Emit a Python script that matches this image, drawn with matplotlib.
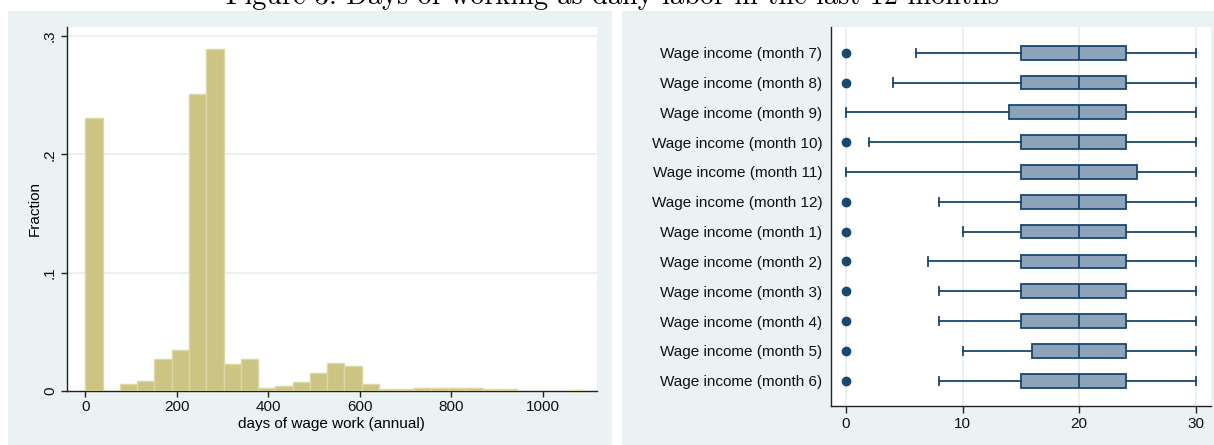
import numpy as np
import matplotlib
matplotlib.use("Agg")
import matplotlib.pyplot as plt
from matplotlib.patches import Rectangle

# ---------------- data ----------------
title_text = "Figure 3: Days of working as daily labor in the last 12 months"

# histogram: 29 bins between 0 and 1095 days, fraction per bin
hist_min, hist_max, hist_nbins = 0, 1095, 29
hist_fraction = [0.2305, 0.0, 0.0056, 0.0085, 0.0265, 0.0344, 0.2508, 0.2889,
                 0.0226, 0.0265, 0.0023, 0.0040, 0.0076, 0.0147, 0.0234, 0.0206,
                 0.0056, 0.0014, 0.0014, 0.0023, 0.0023, 0.0023, 0.0023, 0.0014,
                 0.0014, 0.0, 0.0, 0.0, 0.0008]
hist_xticks = [0, 200, 400, 600, 800, 1000]
hist_yticks = [0, 0.1, 0.2, 0.3]
hist_yticklabels = ["0", ".1", ".2", ".3"]
hist_xlabel = "days of wage work (annual)"
hist_ylabel = "Fraction"

# box plots (top to bottom)
box_labels = ["Wage income (month 7)", "Wage income (month 8)", "Wage income (month 9)",
              "Wage income (month 10)", "Wage income (month 11)", "Wage income (month 12)",
              "Wage income (month 1)", "Wage income (month 2)", "Wage income (month 3)",
              "Wage income (month 4)", "Wage income (month 5)", "Wage income (month 6)"]
box_whislo = [6, 4, 0, 2, 0, 8, 10, 7, 8, 8, 10, 8]
box_q1     = [15, 15, 14, 15, 15, 15, 15, 15, 15, 15, 16, 15]
box_med    = [20, 20, 20, 20, 20, 20, 20, 20, 20, 20, 20, 20]
box_q3     = [24, 24, 24, 24, 25, 24, 24, 24, 24, 24, 24, 24]
box_whishi = [30, 30, 30, 30, 30, 30, 30, 30, 30, 30, 30, 30]
box_outliers = [[0], [0], [], [0], [], [0], [0], [0], [0], [0], [0], [0]]
box_xticks = [0, 10, 20, 30]

# ---------------- styling ----------------
W, H = 1214, 445
BG = "#EAF2F3"
BAR_FC = "#CCC483"
BAR_EC = "#DDD7A6"
NAVY = "#1A476F"
BOX_FC = "#8CA3B9"
GRID = "#E4EDEF"
AXC = "#222222"

plt.rcParams["font.family"] = ["Liberation Sans", "DejaVu Sans"]

fig = plt.figure(figsize=(W / 100, H / 100), dpi=100)
fig.patch.set_facecolor("white")

def px_rect(x0, y0, x1, y1):
    """figure-fraction rect from pixel coords (top-left origin)"""
    return [x0 / W, 1 - y1 / H, (x1 - x0) / W, (y1 - y0) / H]

# panel backgrounds
for (x0, x1) in [(7.5, 611.5), (621.5, 1220)]:
    fig.patches.append(Rectangle((x0 / W, 0), (x1 - x0) / W, 1 - 11 / H,
                                 transform=fig.transFigure, facecolor=BG,
                                 edgecolor="none", zorder=-5))

# title (cut at top, as in the reference)
t = fig.text(612 / W, 1 - 4 / H, title_text, family="cmr10", fontsize=20,
             ha="center", va="baseline", color="black")
fig.canvas.draw()
r = fig.canvas.get_renderer()
wpx = t.get_window_extent(r).width
t.set_fontsize(20 * 774 / wpx)

# ---------------- left: histogram ----------------
ax1 = fig.add_axes(px_rect(66.7, 26.7, 596.7, 390.7))
ax1.set_zorder(2)
ax1.set_facecolor("white")
edges = np.linspace(hist_min, hist_max, hist_nbins + 1)
ax1.bar(edges[:-1], hist_fraction, width=np.diff(edges), align="edge",
        color=BAR_FC, edgecolor=BAR_EC, linewidth=1.0, zorder=3)
ax1.set_xlim(-40.7, 1117.8)
ax1.set_ylim(0, 0.308)
ax1.set_xticks(hist_xticks)
ax1.set_yticks(hist_yticks)
ax1.set_yticklabels(hist_yticklabels, rotation=90, va="center")
for y in hist_yticks[1:]:
    ax1.axhline(y, color=GRID, lw=1.2, zorder=1)
ax1.set_xlabel(hist_xlabel, fontsize=11, labelpad=2)
ax1.set_ylabel(hist_ylabel, fontsize=11, labelpad=1)
for s in ["top", "right"]:
    ax1.spines[s].set_visible(False)
for s in ["left", "bottom"]:
    ax1.spines[s].set_color(AXC)
    ax1.spines[s].set_linewidth(1.0)
ax1.tick_params(axis="both", labelsize=11, length=4, width=1.0, color=AXC,
                labelcolor="#111111")
ax1.tick_params(axis="x", pad=3)
ax1.tick_params(axis="y", pad=3)

# ---------------- right: box plots ----------------
ax2 = fig.add_axes(px_rect(830.7, 26.7, 1210.7, 406))
ax2.set_zorder(2)
ax2.set_facecolor("white")
n = len(box_labels)
positions = np.arange(n, 0, -1)
stats = []
for i in range(n):
    stats.append(dict(whislo=box_whislo[i], q1=box_q1[i], med=box_med[i],
                      q3=box_q3[i], whishi=box_whishi[i], fliers=box_outliers[i],
                      label=box_labels[i]))
kw = dict(positions=positions, widths=0.46, patch_artist=True,
          boxprops=dict(facecolor=BOX_FC, edgecolor=NAVY, linewidth=1.3),
          medianprops=dict(color=NAVY, linewidth=1.3),
          whiskerprops=dict(color=NAVY, linewidth=1.3),
          capprops=dict(color=NAVY, linewidth=1.3),
          flierprops=dict(marker="o", markerfacecolor=NAVY, markeredgecolor=NAVY,
                          markersize=6), capwidths=0.28, manage_ticks=False)
try:
    parts = ax2.bxp(stats, orientation="horizontal", **kw)
except TypeError:
    parts = ax2.bxp(stats, vert=False, **kw)
for b in parts["boxes"]:
    b.set_zorder(3)
for m in parts["medians"]:
    m.set_zorder(4)
for f in parts["fliers"]:
    f.set_zorder(4)
ax2.set_xlim(-1.31, 31.29)
ax2.set_ylim(0.151, n + 0.872)
ax2.set_yticks(positions)
ax2.set_yticklabels(box_labels)
ax2.set_xticks(box_xticks)
for x in box_xticks:
    ax2.axvline(x, color=GRID, lw=1.2, zorder=1)
for s in ["top", "right"]:
    ax2.spines[s].set_visible(False)
for s in ["left", "bottom"]:
    ax2.spines[s].set_color(AXC)
    ax2.spines[s].set_linewidth(1.0)
ax2.tick_params(axis="y", length=0, pad=6, labelsize=11, labelcolor="#111111")
ax2.tick_params(axis="x", length=5, width=1.0, color=AXC, pad=3, labelsize=11,
                labelcolor="#111111")

fig.savefig("out.png", dpi=100)
